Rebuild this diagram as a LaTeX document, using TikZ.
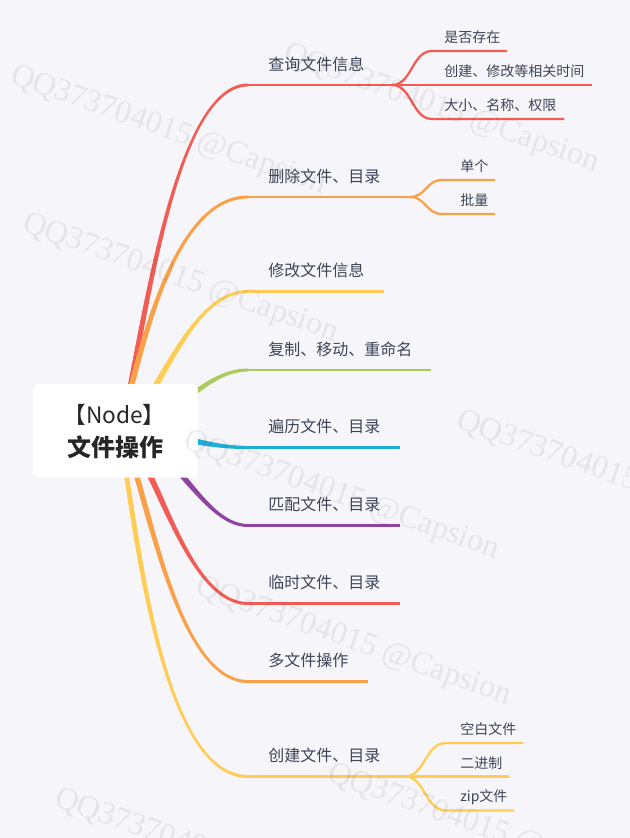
\documentclass[tikz,border=0pt]{standalone}
\usepackage{fontspec}
\setmainfont{Noto Sans CJK SC}
\newfontfamily\wmfont{Liberation Serif}
\usetikzlibrary{calc}
\pgfdeclarelayer{back}
\pgfdeclarelayer{branches}
\pgfsetlayers{back,branches,main}
\definecolor{bg}{RGB}{246,246,250}
\definecolor{txt}{RGB}{60,68,86}
\definecolor{roottxt}{RGB}{38,38,38}
\definecolor{cRed}{RGB}{242,92,84}
\definecolor{cOrange}{RGB}{250,160,72}
\definecolor{cYellow}{RGB}{255,205,85}
\definecolor{cGreen}{RGB}{170,202,92}
\definecolor{cCyan}{RGB}{30,175,215}
\definecolor{cPurple}{RGB}{142,68,160}
% #1 colour, #2 end y, #3 first control x, #4 second control x, #5 name of end coordinate
\newcommand\mbranch[5]{%
  \coordinate (#5) at (248,#2);
  \coordinate (C1) at (#3,430.5);
  \coordinate (C2) at (#4,#2);
  \fill[#1] ($(root.center)!4pt!90:(C1)$) .. controls ($(C1)!3.6pt!90:(C2)$) and ($(C2)+(0,1.6pt)$) .. ($(#5)+(0,1.1pt)$)
    -- ($(#5)+(0,-1.1pt)$) .. controls ($(C2)+(0,-1.6pt)$) and ($(C1)!3.6pt!-90:(C2)$) .. ($(root.center)!4pt!-90:(C1)$) -- cycle;
}
\begin{document}
\begin{tikzpicture}[x=0.75pt,y=-0.75pt,
  maintext/.style={font=\fontsize{12pt}{14pt}\selectfont, text=txt, inner sep=0pt, anchor=west},
  subtext/.style={font=\fontsize{10.5pt}{12pt}\selectfont, text=txt, inner sep=0pt, anchor=west},
  mline/.style={line width=2.2pt},
  sline/.style={line width=1.7pt},
  wm/.style={font=\wmfont\fontsize{24pt}{24pt}\selectfont, text=black!75, text opacity=0.09, rotate=-19.5, inner sep=0pt, anchor=north west},
  rootbox/.style={fill=white, rounded corners=4.5pt, minimum width=123.5pt, minimum height=70.3pt, inner sep=0pt},
  rootfont/.style={text=roottxt, inner sep=0pt}]
\begin{pgfonlayer}{back}
  \fill[bg] (0,0) rectangle (630,838);
\end{pgfonlayer}
\useasboundingbox (0,0) rectangle (630,838);

\node[rootbox] (root) at (115.5,430.8) {};
\node[rootfont, font=\fontsize{17pt}{20pt}\selectfont] (rootA) at (114.5,415) {【Node】};
\node[rootfont, font=\fontsize{18pt}{20pt}\selectfont\bfseries] (rootB) at (115.5,447) {文件操作};

\begin{pgfonlayer}{branches}
  \mbranch{cRed}{85}{135}{160}{e1}
  \mbranch{cOrange}{197}{130}{155}{e2}
  \mbranch{cYellow}{291.5}{150}{182}{e3}
  \mbranch{cGreen}{370}{170}{200}{e4}
  \mbranch{cCyan}{447.5}{170}{200}{e5}
  \mbranch{cPurple}{525.5}{170}{200}{e6}
  \mbranch{cRed}{603.5}{150}{180}{e7}
  \mbranch{cOrange}{681.5}{140}{165}{e8}
  \mbranch{cYellow}{776.5}{130}{145}{e9}
\end{pgfonlayer}

% junctions and free ends
\coordinate (j1) at (392,85);
\coordinate (j2) at (410,197);
\coordinate (j9) at (405,776.5);
\coordinate (f3) at (383.5,291.5);
\coordinate (f4) at (431,370);
\coordinate (f5) at (399.5,447.5);
\coordinate (f6) at (399.5,525.5);
\coordinate (f7) at (399.5,603.5);
\coordinate (f8) at (367.5,681.5);

\coordinate (k11) at (432,51);  \coordinate (f11) at (507,51);
\coordinate (f12) at (592,85);
\coordinate (k13) at (432,119); \coordinate (f13) at (564,119);
\coordinate (k21) at (442,180); \coordinate (f21) at (495,180);
\coordinate (k22) at (442,214); \coordinate (f22) at (495,214);
\coordinate (k91) at (446,743); \coordinate (f91) at (523,743);
\coordinate (f92) at (509,776.5);
\coordinate (k93) at (446,810.5); \coordinate (f93) at (514,810.5);

% main horizontal lines
\draw[cRed, mline] (e1) -- (j1);
\draw[cOrange, mline] (e2) -- (j2);
\draw[cYellow, mline] (e3) -- (f3);
\draw[cGreen, mline] (e4) -- (f4);
\draw[cCyan, mline] (e5) -- (f5);
\draw[cPurple, mline] (e6) -- (f6);
\draw[cRed, mline] (e7) -- (f7);
\draw[cOrange, mline] (e8) -- (f8);
\draw[cYellow, mline] (e9) -- (j9);

% sub branches
\draw[cRed, sline] (j1) .. controls (412,85) and (412,51) .. (k11) -- (f11);
\draw[cRed, sline] (j1) -- (f12);
\draw[cRed, sline] (j1) .. controls (412,85) and (412,119) .. (k13) -- (f13);
\draw[cOrange, sline] (j2) .. controls (426,197) and (426,180) .. (k21) -- (f21);
\draw[cOrange, sline] (j2) .. controls (426,197) and (426,214) .. (k22) -- (f22);
\draw[cYellow, sline] (j9) .. controls (425,776.5) and (425,743) .. (k91) -- (f91);
\draw[cYellow, sline] (j9) -- (f92);
\draw[cYellow, sline] (j9) .. controls (425,776.5) and (425,810.5) .. (k93) -- (f93);

% texts
\node[maintext] (t1) at (268,64) {查询文件信息};
\node[maintext] (t2) at (268,176) {删除文件、目录};
\node[maintext] (t3) at (268,270.5) {修改文件信息};
\node[maintext] (t4) at (268,349) {复制、移动、重命名};
\node[maintext] (t5) at (268,426.5) {遍历文件、目录};
\node[maintext] (t6) at (268,504.5) {匹配文件、目录};
\node[maintext] (t7) at (268,582.5) {临时文件、目录};
\node[maintext] (t8) at (268,660.5) {多文件操作};
\node[maintext] (t9) at (268,755.5) {创建文件、目录};

\node[subtext] (s11) at (444,37) {是否存在};
\node[subtext] (s12) at (444,71) {创建、修改等相关时间};
\node[subtext] (s13) at (444,105) {大小、名称、权限};
\node[subtext] (s21) at (460,166) {单个};
\node[subtext] (s22) at (460,200) {批量};
\node[subtext] (s91) at (460,729) {空白文件};
\node[subtext] (s92) at (460,763) {二进制};
\node[subtext] (s93) at (460,797) {zip文件};

% watermarks
\node[wm] (w1) at (16,62) {QQ373704015 @Capsion};
\node[wm] (w2) at (289,40) {QQ373704015 @Capsion};
\node[wm] (w3) at (28,210) {QQ373704015 @Capsion};
\node[wm] (w4) at (462,407) {QQ373704015 @Capsion};
\node[wm] (w5) at (189,427) {QQ373704015 @Capsion};
\node[wm] (w6) at (201,573) {QQ373704015 @Capsion};
\node[wm] (w7) at (60,785) {QQ373704015 @Capsion};
\node[wm] (w8) at (333,760) {QQ373704015 @Capsion};
\end{tikzpicture}
\end{document}
